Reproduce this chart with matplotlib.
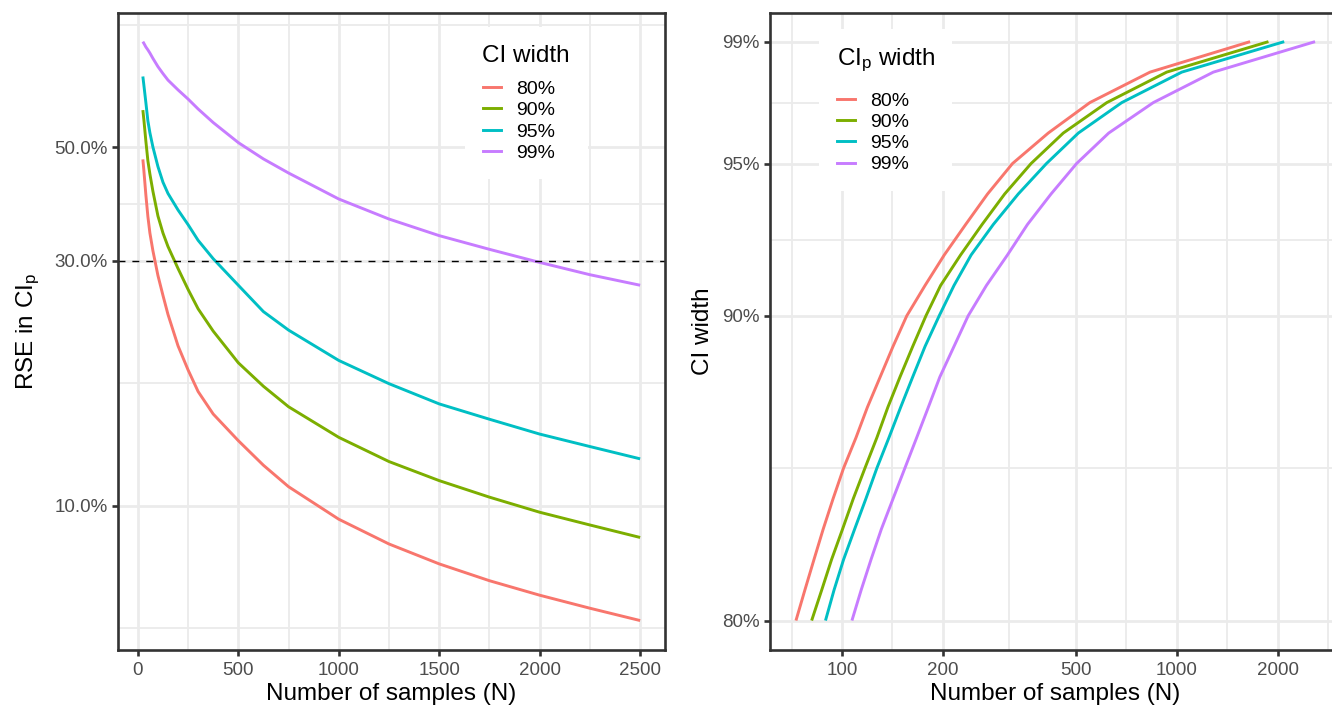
import numpy as np
import matplotlib
matplotlib.use("Agg")
import matplotlib.pyplot as plt
from matplotlib.lines import Line2D
from matplotlib.ticker import FixedLocator, FixedFormatter, NullFormatter

# ---------------- data: left panel (RSE in CIp vs N) ----------------
n_samples = [25, 30, 40, 50, 60, 75, 100, 125, 150, 200, 250, 300, 375, 500, 625,
             750, 1000, 1250, 1500, 1750, 2000, 2250, 2500]
rse_80 = [47.3, 45.0, 40.3, 36.6, 34.0, 31.4, 28.1, 25.7, 23.6, 20.5, 18.4, 16.7, 15.1,
          13.4, 12.0, 10.9, 9.42, 8.43, 7.71, 7.15, 6.70, 6.32, 5.98]
rse_90 = [59.0, 56.5, 51.3, 47.0, 44.3, 41.0, 36.7, 34.0, 32.0, 29.0, 26.4, 24.2, 21.9,
          19.0, 17.1, 15.6, 13.6, 12.2, 11.2, 10.4, 9.72, 9.18, 8.68]
rse_95 = [68.6, 66.0, 61.0, 56.2, 53.3, 50.0, 45.8, 42.7, 40.6, 37.7, 35.3, 32.9, 30.3,
          26.9, 23.9, 22.0, 19.2, 17.3, 15.8, 14.75, 13.8, 13.05, 12.35]
rse_99 = [80.2, 79.6, 78.3, 77.3, 76.2, 74.4, 71.7, 69.5, 67.5, 64.6, 62.0, 59.3, 55.8,
          51.0, 47.4, 44.5, 39.6, 36.2, 33.6, 31.6, 29.8, 28.2, 26.9]
rse_threshold = 30.0

# ---------------- data: right panel (N vs CI width) ----------------
ci_width = [80, 81, 82, 83, 84, 85, 86, 87, 88, 89, 90, 91, 92, 93, 94, 95, 96, 97, 98, 99]
n_80 = [72.8, 77.4, 82.4, 87.8, 94, 101, 110, 119, 130, 142, 156, 177, 202, 234, 272,
        323, 413, 550, 832, 1656]
n_90 = [81.1, 86.9, 93, 100.3, 108, 117, 127, 137, 149, 162.6, 178, 197, 226, 262, 306,
        367, 458, 618, 933, 1879]
n_95 = [89.2, 94.6, 101, 109, 117.8, 127, 138, 149.6, 162.6, 177, 195, 216, 243, 283, 336,
        408, 508, 685, 1035, 2094]
n_99 = [107, 114, 122, 131, 142, 154, 167, 181, 196, 216, 238, 270, 312, 358, 421,
        502, 626, 851, 1286, 2589]

series_labels = ["80%", "90%", "95%", "99%"]
colors = ["#F8766D", "#7CAE00", "#00BFC4", "#C77CFF"]

left_yticks = [10, 30, 50]
right_xticks = [100, 200, 500, 1000, 2000]
right_yticks = [80, 90, 95, 99]
left_xticks = [0, 500, 1000, 1500, 2000, 2500]

# ---------------- style ----------------
plt.rcParams['font.family'] = ['Liberation Sans', 'DejaVu Sans']
plt.rcParams['mathtext.fontset'] = 'custom'
plt.rcParams['mathtext.rm'] = 'Liberation Sans'
plt.rcParams['mathtext.it'] = 'Liberation Sans:italic'
plt.rcParams['mathtext.default'] = 'regular'

W, H = 1332, 709
fig = plt.figure(figsize=(W / 100, H / 100), dpi=100)
fig.patch.set_facecolor('white')

GRID = '#EBEBEB'
BORDER = '#333333'
TICKLAB = '#4D4D4D'
LW = 2.1
TICK_FS = 13.5
TITLE_FS = 17.5
LEG_FS = 14
LEG_TITLE_FS = 17.5


def ax_rect(l, t, r, b):
    return [l / W, 1 - b / H, (r - l) / W, (b - t) / H]


def minor_breaks(b, lo, hi):
    b = list(b)
    bd = b[1] - b[0]
    if lo < b[0]:
        b = [b[0] - bd] + b
    if hi > b[-1]:
        b = b + [b[-1] + bd]
    return [(a + c) / 2 for a, c in zip(b[:-1], b[1:])]


def expand(lo, hi, f=0.05):
    d = (hi - lo) * f
    return lo - d, hi + d


def style_axes(ax):
    ax.set_facecolor('white')
    for s in ax.spines.values():
        s.set_color(BORDER)
        s.set_linewidth(1.9)
        s.set_zorder(5)
    ax.tick_params(which='major', length=4.0, width=1.9, color=BORDER,
                   labelsize=TICK_FS, labelcolor=TICKLAB, pad=3.3)
    ax.tick_params(axis='x', which='major', pad=5.0)
    ax.tick_params(which='minor', length=0)
    ax.grid(which='major', color=GRID, linewidth=2.0, zorder=0)
    ax.grid(which='minor', color=GRID, linewidth=1.3, zorder=0)
    ax.set_axisbelow(True)


def add_legend(ax, title, left_px, top_px, sep):
    handles = [Line2D([], [], color=c, lw=LW) for c in colors]
    leg = ax.legend(handles, series_labels, title=title, loc='upper left',
                    bbox_to_anchor=(left_px / W, 1 - top_px / H),
                    bbox_transform=fig.transFigure, frameon=True, fancybox=False,
                    edgecolor='none', facecolor='white', framealpha=1,
                    fontsize=LEG_FS, title_fontsize=LEG_TITLE_FS, borderpad=0.9,
                    borderaxespad=0, handlelength=0.95, handletextpad=0.8,
                    labelspacing=0.19, alignment='left')
    leg._legend_box.sep = sep
    leg.set_zorder(4)
    return leg


# ---------------- left panel ----------------
axL = fig.add_axes(ax_rect(118, 12.7, 665, 649.5))
style_axes(axL)
axL.set_yscale('log')
for vals, c in zip([rse_80, rse_90, rse_95, rse_99], colors):
    axL.plot(n_samples, vals, color=c, lw=LW, solid_capstyle='butt',
             solid_joinstyle='round', zorder=3)
axL.axhline(rse_threshold, color='black', lw=1.0, dashes=(5, 5), zorder=3)

xlo, xhi = expand(min(n_samples), max(n_samples))
axL.set_xlim(xlo, xhi)
all_rse = rse_80 + rse_90 + rse_95 + rse_99
ylo, yhi = expand(np.log10(min(all_rse)), np.log10(max(all_rse)))
axL.set_ylim(10 ** ylo, 10 ** yhi)

axL.xaxis.set_major_locator(FixedLocator(left_xticks))
axL.xaxis.set_major_formatter(FixedFormatter([str(t) for t in left_xticks]))
axL.xaxis.set_minor_locator(FixedLocator(minor_breaks(left_xticks, xlo, xhi)))
axL.yaxis.set_major_locator(FixedLocator(left_yticks))
axL.yaxis.set_major_formatter(FixedFormatter([f"{t:.1f}%" for t in left_yticks]))
lmin = [10 ** v for v in minor_breaks(np.log10(left_yticks), ylo, yhi)]
axL.yaxis.set_minor_locator(FixedLocator(lmin))
axL.yaxis.set_minor_formatter(NullFormatter())
axL.set_xlabel("Number of samples (N)", fontsize=TITLE_FS, labelpad=3)
axL.set_ylabel("RSE in CI$_{p}$", fontsize=TITLE_FS, labelpad=9)
add_legend(axL, "CI width", 465, 27, 10)

# ---------------- right panel ----------------
axR = fig.add_axes(ax_rect(770, 12.7, 1341, 649.5))
style_axes(axR)
axR.set_xscale('log')
for vals, c in zip([n_80, n_90, n_95, n_99], colors):
    axR.plot(vals, ci_width, color=c, lw=LW, solid_capstyle='butt',
             solid_joinstyle='round', zorder=3)

all_n = n_80 + n_90 + n_95 + n_99
rxlo, rxhi = expand(np.log10(min(all_n)), np.log10(max(all_n)))
axR.set_xlim(10 ** rxlo, 10 ** rxhi)
rylo, ryhi = expand(min(ci_width), max(ci_width))
axR.set_ylim(rylo, ryhi)

axR.xaxis.set_major_locator(FixedLocator(right_xticks))
axR.xaxis.set_major_formatter(FixedFormatter([str(t) for t in right_xticks]))
rmin = [10 ** v for v in minor_breaks(np.log10(right_xticks), rxlo, rxhi)]
axR.xaxis.set_minor_locator(FixedLocator(rmin))
axR.xaxis.set_minor_formatter(NullFormatter())
axR.yaxis.set_major_locator(FixedLocator(right_yticks))
axR.yaxis.set_major_formatter(FixedFormatter([f"{t}%" for t in right_yticks]))
axR.yaxis.set_minor_locator(FixedLocator(minor_breaks(right_yticks, rylo, ryhi)))
axR.set_xlabel("Number of samples (N)", fontsize=TITLE_FS, labelpad=3)
axR.set_ylabel("CI width", fontsize=TITLE_FS, labelpad=6)
add_legend(axR, "CI$_{p}$ width", 819, 29, 13)

fig.savefig("out.png", dpi=100, facecolor='white')
